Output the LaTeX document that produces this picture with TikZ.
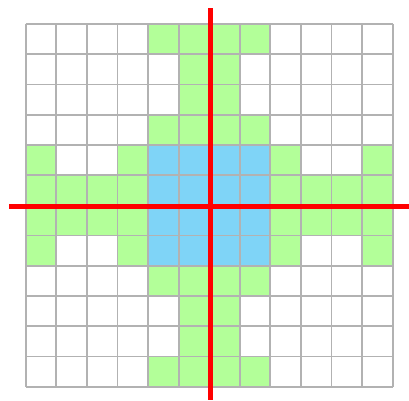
\documentclass[tikz,border=0pt]{standalone}
\begin{document}
\begin{tikzpicture}[x=1pt,y=-1pt,
  gcell/.style={fill={rgb,255:red,179;green,255;blue,153},draw={rgb,255:red,102;green,255;blue,51},line width=0.8pt},
  bcell/.style={fill={rgb,255:red,127;green,212;blue,247},draw=none},
  gridline/.style={draw={rgb,255:red,178;green,178;blue,178},line width=1.8pt},
  axis/.style={draw=red,line width=5pt}]
\useasboundingbox (0,0) rectangle (409,400);
\fill[white] (0,0) rectangle (409,400);
\def\cw{30.58}\def\ch{30.22}\def\ox{25.7}\def\oy{24}
\foreach \c/\r in {4/0,5/0,6/0,7/0,5/1,6/1,5/2,6/2,4/3,5/3,6/3,7/3,
  0/4,3/4,8/4,11/4,
  0/5,1/5,2/5,3/5,8/5,9/5,10/5,11/5,
  0/6,1/6,2/6,3/6,8/6,9/6,10/6,11/6,
  0/7,3/7,8/7,11/7,
  4/8,5/8,6/8,7/8,5/9,6/9,5/10,6/10,4/11,5/11,6/11,7/11}
  \path[gcell] ({\ox+\c*\cw},{\oy+\r*\ch}) rectangle ({\ox+(\c+1)*\cw},{\oy+(\r+1)*\ch});
\foreach \c in {4,...,7}
  \foreach \r in {4,...,7}
    \path[bcell] ({\ox+\c*\cw},{\oy+\r*\ch}) rectangle ({\ox+(\c+1)*\cw},{\oy+(\r+1)*\ch});
\foreach \i in {0,...,12} {
  \draw[gridline] ({\ox+\i*\cw},\oy) -- ({\ox+\i*\cw},{\oy+12*\ch});
  \draw[gridline] (\ox,{\oy+\i*\ch}) -- ({\ox+12*\cw},{\oy+\i*\ch});
}
\coordinate (vt) at (210,8);
\coordinate (vb) at (210,400);
\coordinate (hl) at (9,206);
\coordinate (hr) at (409,206);
\draw[axis] (vt) -- (vb);
\draw[axis] (hl) -- (hr);
\end{tikzpicture}
\end{document}
